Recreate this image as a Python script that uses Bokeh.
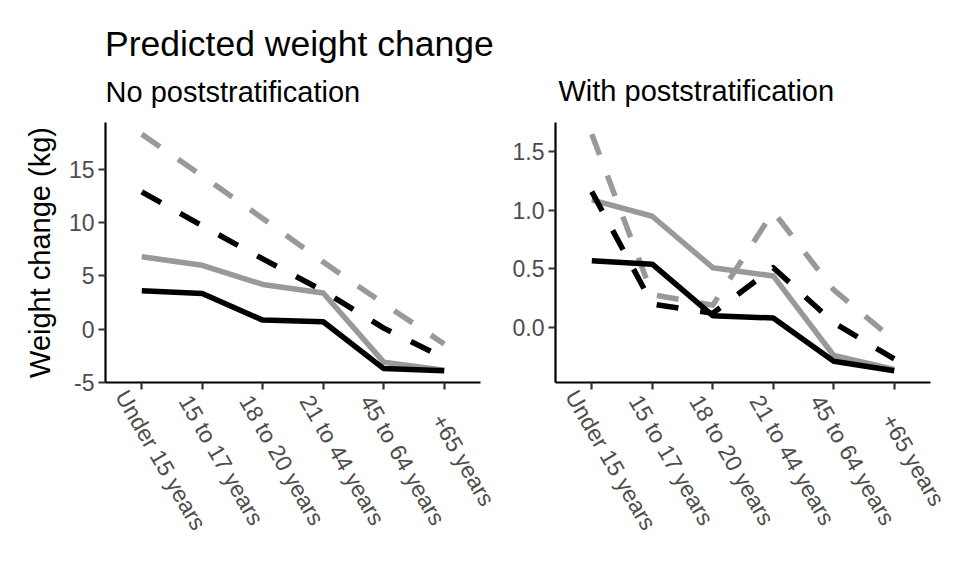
import math
from bokeh.plotting import figure
from bokeh.models import (Range1d, FixedTicker, NumeralTickFormatter,
                          ColumnDataSource, Label, LabelSet)
from bokeh.core.properties import value
from bokeh.layouts import row
from bokeh.embed import file_html
from bokeh.resources import INLINE

ages = ["Under 15 years", "15 to 17 years", "18 to 20 years",
        "21 to 44 years", "45 to 64 years", "+65 years"]

# No poststratification
left_black_solid = [3.6, 3.35, 0.85, 0.7, -3.7, -3.9]
left_gray_solid = [6.8, 6.0, 4.2, 3.4, -3.1, -3.85]
left_black_dashed = [12.9, 9.7, 6.6, 3.6, 0.1, -2.7]
left_gray_dashed = [18.3, 14.4, 10.4, 6.3, 2.4, -1.4]

# With poststratification
right_black_solid = [0.57, 0.54, 0.10, 0.08, -0.29, -0.37]
right_gray_solid = [1.09, 0.95, 0.51, 0.44, -0.24, -0.36]
right_black_dashed = [1.16, 0.20, 0.12, 0.51, 0.04, -0.27]
right_gray_dashed = [1.65, 0.28, 0.19, 0.99, 0.32, -0.11]

left_ticks = [-5, 0, 5, 10, 15]
right_ticks = [0.0, 0.5, 1.0, 1.5]

FONT = "Liberation Sans"
GRAY = "#999999"
BLACK = "#000000"
LW = 5.5
DASH = "22 22"
H = 574                     # figure height (px)
PANEL_TOP, PANEL_BOTTOM = 122, 382

pos = list(range(1, len(ages) + 1))   # discrete positions of the age groups


def panel(series, ticks, fmt, W, data_left, data_right, titles, ylabel):
    # discrete scale with ggplot-like 0.6 expansion
    x0, x1 = pos[0] - 0.6, pos[-1] + 0.6
    ppu = (data_right - data_left) / (x1 - x0)
    xr = Range1d(x0 - data_left / ppu, x1 + (W - data_right) / ppu)
    # continuous scale with 5% expansion
    lo = min(min(s) for s, _, _ in series)
    hi = max(max(s) for s, _, _ in series)
    lo, hi = lo - 0.05 * (hi - lo), hi + 0.05 * (hi - lo)
    ppy = (PANEL_BOTTOM - PANEL_TOP) / (hi - lo)
    yr = Range1d(lo - (H - PANEL_BOTTOM) / ppy, hi + PANEL_TOP / ppy)

    p = figure(x_range=xr, y_range=yr, width=W, height=H, title=None,
               min_border=0, min_border_left=0, min_border_right=0,
               min_border_top=0, min_border_bottom=0,
               output_backend="svg", toolbar_location=None,
               background_fill_color="white", border_fill_color="white")
    p.extra_x_ranges = {"px": Range1d(0, W)}
    p.extra_y_ranges = {"px": Range1d(H, 0)}
    p.outline_line_color = None
    p.grid.visible = False

    for vals, color, dash in series:
        src = ColumnDataSource(dict(x=pos, y=vals))
        p.line("x", "y", source=src, line_color=color, line_width=LW,
               line_dash=dash, line_cap="butt", line_join="round")

    for ax in (p.xaxis[0], p.yaxis[0]):
        ax.axis_line_color = "black"
        ax.axis_line_width = 2.2
        ax.major_tick_line_color = "#333333"
        ax.major_tick_line_width = 2.2
        ax.major_tick_out = 7
        ax.major_tick_in = 0
        ax.minor_tick_line_color = None
        ax.major_label_text_font = FONT
        ax.major_label_text_font_size = "23px"
        ax.major_label_text_color = "#4d4d4d"
    p.xaxis.fixed_location = lo
    p.xaxis.bounds = (x0, x1)
    p.xaxis.ticker = FixedTicker(ticks=pos)
    p.xaxis.major_label_overrides = {x: "" for x in pos}
    p.yaxis.fixed_location = x0
    p.yaxis.bounds = (lo, hi)
    p.yaxis.ticker = FixedTicker(ticks=ticks)
    p.yaxis.formatter = NumeralTickFormatter(format=fmt)
    p.yaxis.major_label_standoff = 4

    # category labels, rotated and centred below each tick
    lab_src = ColumnDataSource(dict(x=pos, y=[459.5] * len(pos), text=ages))
    p.add_layout(LabelSet(x="x", y="y", text="text", source=lab_src, y_range_name="px",
                          x_offset=19, angle=-math.pi / 3,
                          text_align="center", text_baseline="middle",
                          text_font=value(FONT), text_font_size=value("23px"),
                          text_color="#4d4d4d"))
    if ylabel:
        p.add_layout(Label(x=39.5, y=(PANEL_TOP + PANEL_BOTTOM) / 2, text=ylabel,
                           x_range_name="px", y_range_name="px", angle=math.pi / 2,
                           text_align="center", text_baseline="middle",
                           text_font=FONT, text_font_size="29px", text_color="black"))
    for text, x, y, size in titles:
        p.add_layout(Label(x=x, y=y, text=text, x_range_name="px", y_range_name="px",
                           text_align="left", text_baseline="middle",
                           text_font=FONT, text_font_size=size, text_color="black"))
    return p


p1 = panel([(left_gray_dashed, GRAY, DASH), (left_gray_solid, GRAY, "solid"),
            (left_black_dashed, BLACK, DASH), (left_black_solid, BLACK, "solid")],
           left_ticks, "0", 506, 105, 480,
           [("Predicted weight change", 104.5, 43, "35.5px"),
            ("No poststratification", 105, 91, "29px")],
           "Weight change (kg)")
p2 = panel([(right_gray_dashed, GRAY, DASH), (right_gray_solid, GRAY, "solid"),
            (right_black_dashed, BLACK, DASH), (right_black_solid, BLACK, "solid")],
           right_ticks, "0.0", 452, 49, 424,
           [("With poststratification", 52, 90.5, "29px")], None)

layout = row(p1, p2)
open("out.html", "w").write(file_html(layout, INLINE))
